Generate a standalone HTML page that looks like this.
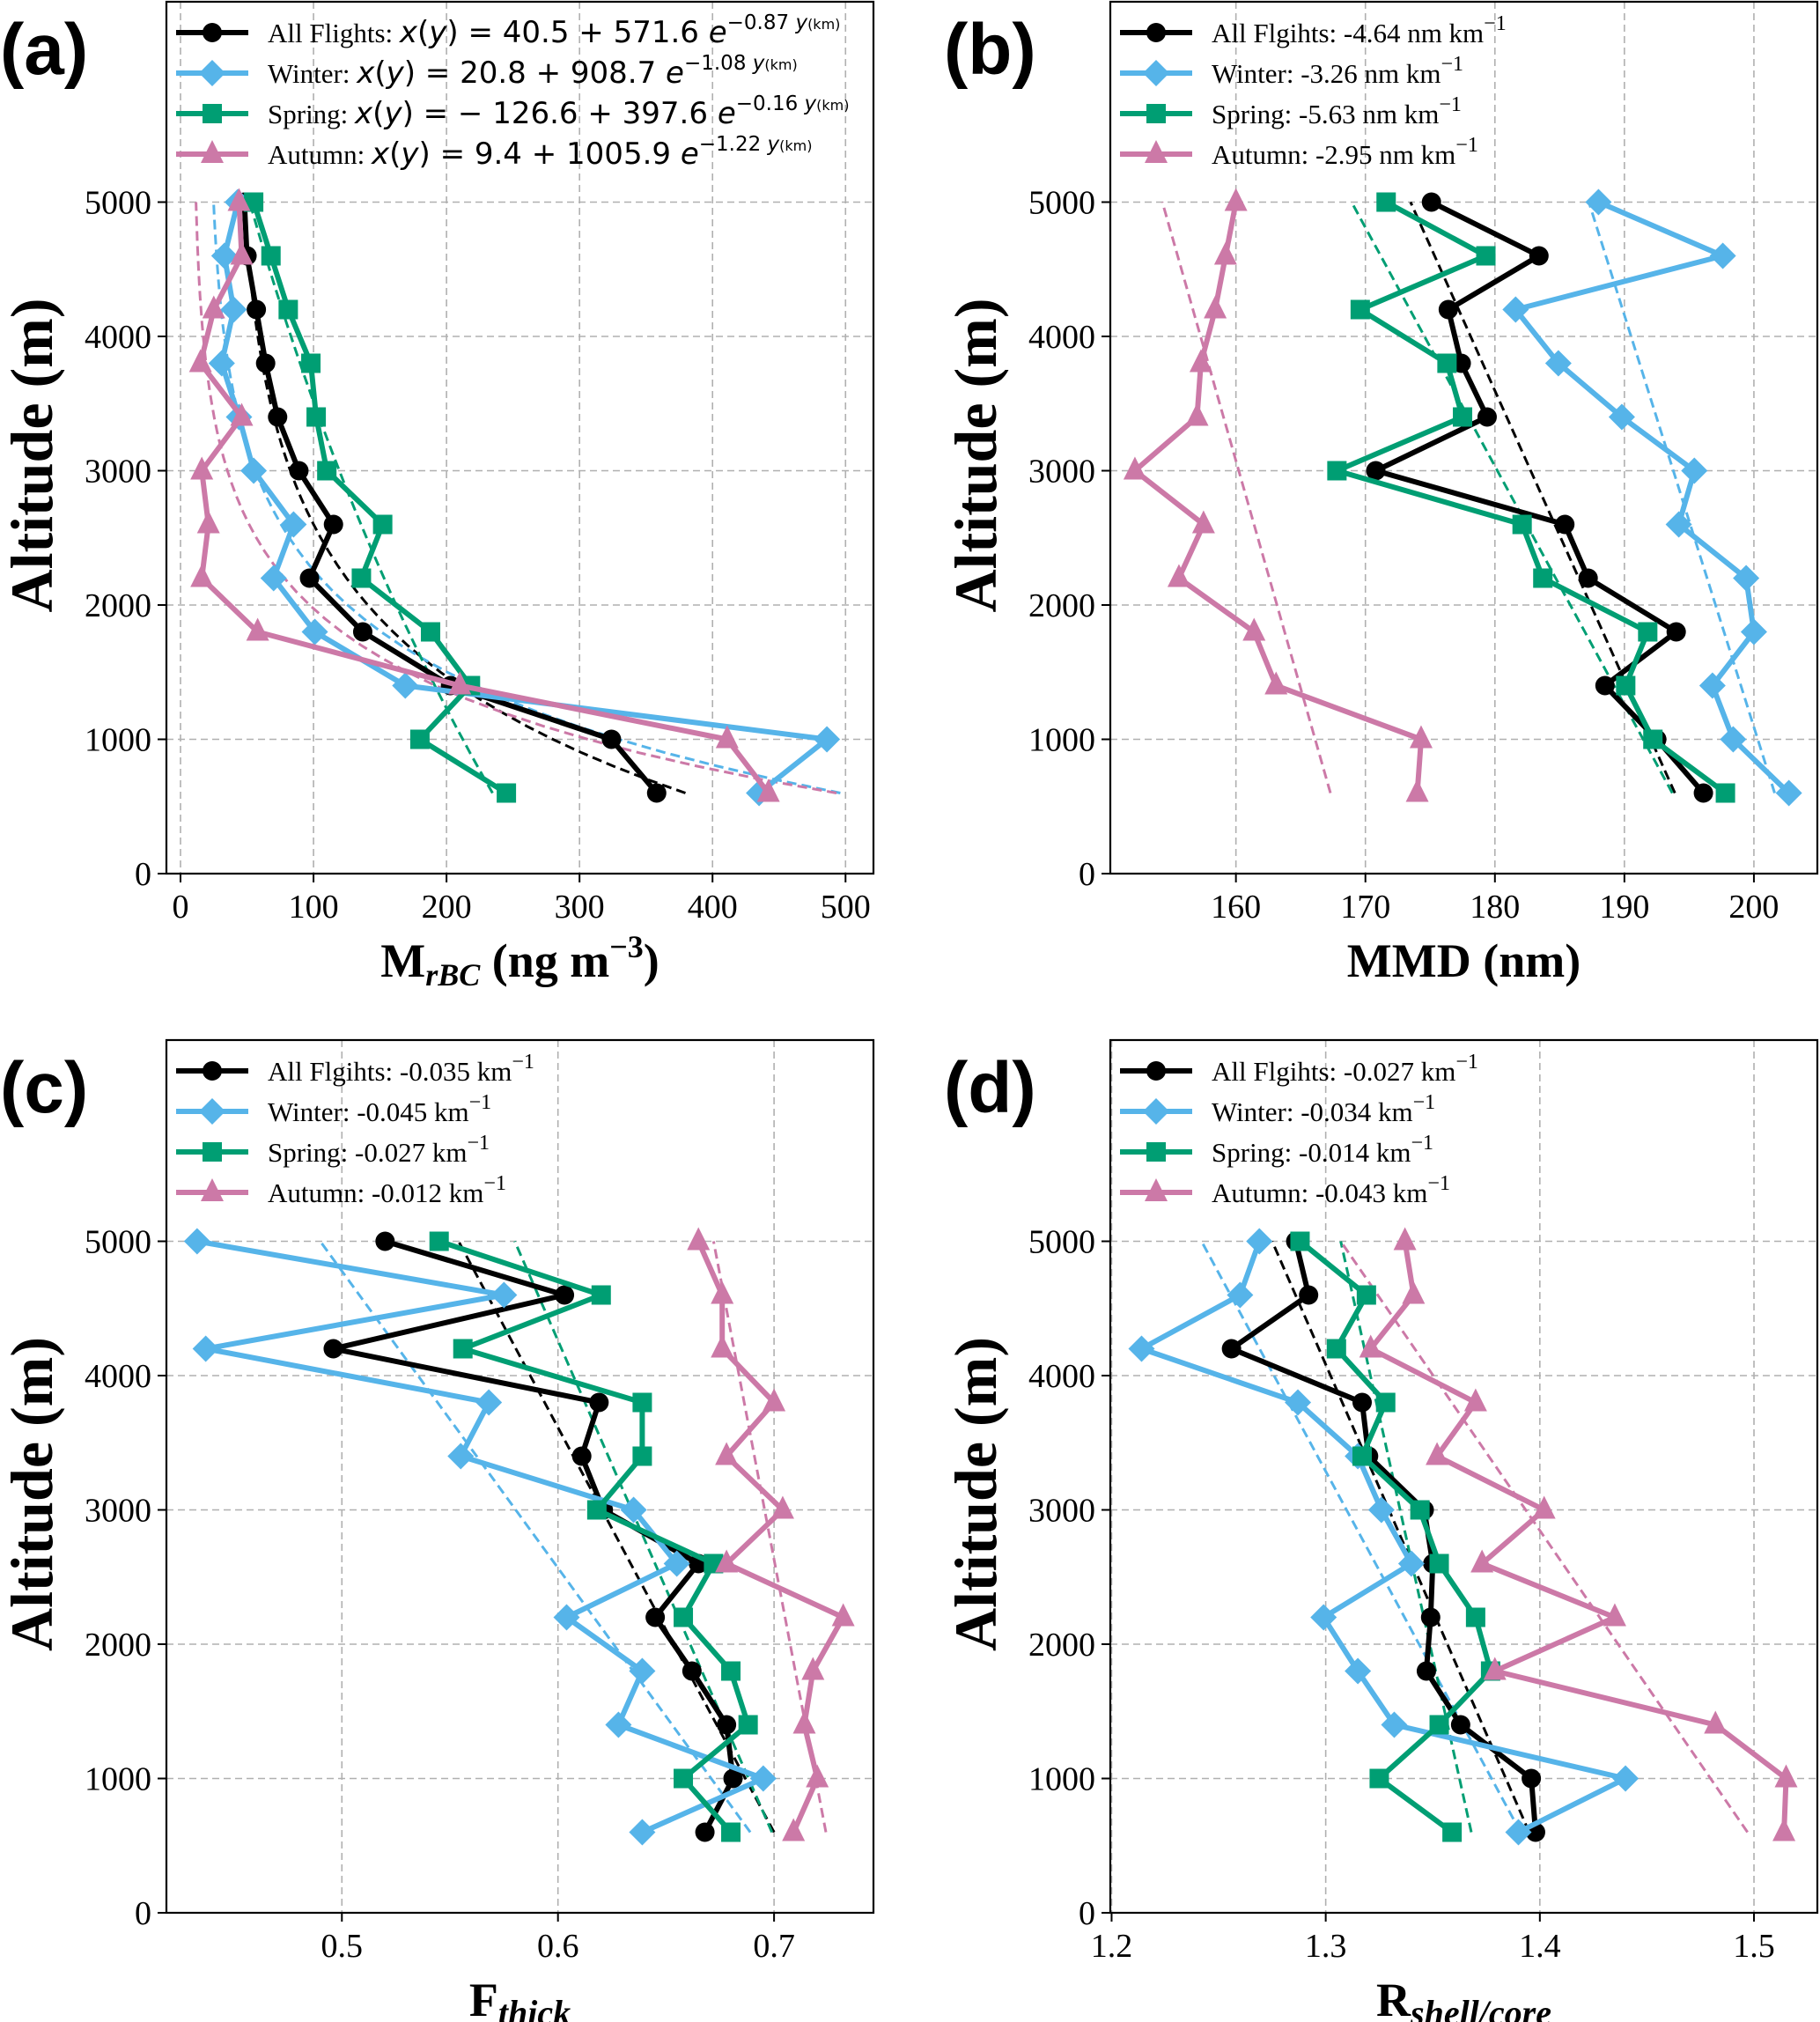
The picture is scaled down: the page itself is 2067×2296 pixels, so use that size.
<!DOCTYPE html>
<html><head><meta charset="utf-8"><style>
html,body{margin:0;padding:0;background:#fff;}
svg{display:block;}
text{font-family:"Liberation Serif","DejaVu Serif",serif;fill:#000;}
.math{font-family:"DejaVu Sans","Liberation Sans",sans-serif;}
</style></head><body>
<svg id="fig" width="2067" height="2296" viewBox="0 0 2067 2296" xmlns="http://www.w3.org/2000/svg"></svg>
<script>
// ---- data ----
const altitudes = [600,1000,1400,1800,2200,2600,3000,3400,3800,4200,4600,5000];
const seasons = ["All Flights","Winter","Spring","Autumn"];
const mrbcAll    = [358,324,203,137,97,115,89,73,64,57,50,48];
const mrbcWinter = [435,486,169,101,70,85,55,44,31,40,33,43];
const mrbcSpring = [245,180,218,188,136,152,110,102,98,81,68,55];
const mrbcAutumn = [442,411,210,58,16,21,16,46,15,25,46,44];
const fitA_a = [40.5,20.8,-126.6,9.4];
const fitA_b = [571.6,908.7,397.6,1005.9];
const fitA_k = [0.87,1.08,0.16,1.22];
const mmdAll    = [196.1,192.5,188.5,194.0,187.2,185.4,170.8,179.4,177.4,176.4,183.4,175.1];
const mmdWinter = [202.7,198.4,196.8,200.0,199.4,194.2,195.4,189.8,184.9,181.6,197.6,188.0];
const mmdSpring = [197.8,192.2,190.1,191.8,183.7,182.1,167.8,177.5,176.3,169.6,179.3,171.6];
const mmdAutumn = [174.0,174.3,163.1,161.4,155.6,157.5,152.2,157.0,157.3,158.4,159.2,160.0];
const fitB_slope = [-4.64,-3.26,-5.63,-2.95];
const fitB_at06 = [193.9,201.6,193.7,167.3];
const fthAll    = [0.668,0.681,0.678,0.662,0.645,0.665,0.621,0.611,0.619,0.496,0.603,0.520];
const fthWinter = [0.639,0.695,0.628,0.639,0.604,0.655,0.635,0.555,0.568,0.437,0.575,0.433];
const fthSpring = [0.680,0.658,0.688,0.680,0.658,0.672,0.618,0.639,0.639,0.556,0.620,0.545];
const fthAutumn = [0.709,0.720,0.714,0.718,0.732,0.678,0.704,0.678,0.700,0.676,0.676,0.665];
const fitC_at06 = [0.700,0.689,0.699,0.724];
const fitC_at50 = [0.554,0.490,0.580,0.672];
const rscAll    = [1.398,1.396,1.363,1.347,1.349,1.350,1.346,1.320,1.317,1.256,1.292,1.286];
const rscWinter = [1.390,1.440,1.332,1.315,1.299,1.340,1.326,1.315,1.287,1.214,1.260,1.269];
const rscSpring = [1.359,1.325,1.353,1.377,1.370,1.353,1.344,1.317,1.328,1.305,1.319,1.288];
const rscAutumn = [1.514,1.515,1.482,1.379,1.435,1.373,1.402,1.352,1.370,1.321,1.341,1.337];
const fitD_at06 = [1.395,1.391,1.368,1.497];
const fitD_at50 = [1.275,1.242,1.307,1.307];
const yTicks = [0,1000,2000,3000,4000,5000];
const xTicksA = [0,100,200,300,400,500];
const xTicksB = [160,170,180,190,200];
const xTicksC = [0.5,0.6,0.7];
const xTicksD = [1.2,1.3,1.4,1.5];

const colors = ["#000000","#56B4E9","#009E73","#CC79A7"];
const markers = ["circle","diamond","square","triangle"];
const NS = "http://www.w3.org/2000/svg";
const svg = document.getElementById("fig");
const SERIF = '"Liberation Serif","Times New Roman",serif';

function mk(tag, attrs, parent){
  const e = document.createElementNS(NS, tag);
  for (const k in attrs) e.setAttribute(k, attrs[k]);
  (parent||svg).appendChild(e);
  return e;
}
function marker(g, shape, x, y, c){
  let e;
  if (shape==="circle"){ e = mk("circle",{cx:x,cy:y,r:11,fill:c},g); }
  else if (shape==="diamond"){ const s=15; e = mk("polygon",{points:`${x},${y-s} ${x+s},${y} ${x},${y+s} ${x-s},${y}`,fill:c},g); }
  else if (shape==="square"){ e = mk("rect",{x:x-11,y:y-11,width:22,height:22,fill:c},g); }
  else { const s=13; e = mk("polygon",{points:`${x},${y-s-3} ${x+s},${y+s-3} ${x-s},${y+s-3}`,fill:c},g); }
  return e;
}

function panel(p){
  const g = mk("g",{});
  
  
  const X = v => p.L + (v - p.xmin)/(p.xmax - p.xmin)*(p.R - p.L);
  const Y = a => p.B - (a/1000)*152.5;
  const clipId = p.name+"-clip";
  const cp = mk("clipPath",{id:clipId},g); mk("rect",{x:p.L,y:p.T,width:p.R-p.L,height:p.B-p.T},cp);
  const grid = mk("g",{},g);
  
  
  p.xticks.forEach(t=>{ mk("line",{x1:X(t),x2:X(t),y1:p.T,y2:p.B,stroke:"#b0b0b0","stroke-width":1.6,"stroke-dasharray":"8,5"},grid); });
  yTicks.forEach(t=>{ mk("line",{x1:p.L,x2:p.R,y1:Y(t),y2:Y(t),stroke:"#b0b0b0","stroke-width":1.6,"stroke-dasharray":"8,5"},grid); });
  const fits = mk("g",{"clip-path":`url(#${clipId})`},g);
  p.fits.forEach((pts,i)=>{
    const d = pts.map((q,j)=>(j?"L":"M")+X(q[0]).toFixed(1)+","+Y(q[1]).toFixed(1)).join(" ");
    const e = mk("path",{d:d,fill:"none",stroke:colors[i],"stroke-width":3,"stroke-dasharray":"11,6"},fits);
    
    
  });
  const ser = mk("g",{"clip-path":`url(#${clipId})`},g);
  p.series.forEach((vals,i)=>{
    const sg = mk("g",{},ser);
    
    
    const d = vals.map((v,j)=>(j?"L":"M")+X(v).toFixed(1)+","+Y(altitudes[j]).toFixed(1)).join(" ");
    mk("path",{d:d,fill:"none",stroke:colors[i],"stroke-width":6,"stroke-linejoin":"round"},sg);
    vals.forEach((v,j)=>{
      const m = marker(sg, markers[i], X(v), Y(altitudes[j]), colors[i]);
      
      
    });
  });
  const fr = mk("rect",{x:p.L,y:p.T,width:p.R-p.L,height:p.B-p.T,fill:"none",stroke:"#000","stroke-width":2.2},g);
  
  
  p.xticks.forEach(t=>{
    mk("line",{x1:X(t),x2:X(t),y1:p.B,y2:p.B+10,stroke:"#000","stroke-width":2},g);
    const e = mk("text",{x:X(t),y:p.B+50,"font-size":38,"text-anchor":"middle",style:"font-family:"+SERIF},g);
    e.textContent = String(t);
    
    
  });
  yTicks.forEach(t=>{
    mk("line",{x1:p.L-10,x2:p.L,y1:Y(t),y2:Y(t),stroke:"#000","stroke-width":2},g);
    const e = mk("text",{x:p.L-17,y:Y(t)+13,"font-size":38,"text-anchor":"end",style:"font-family:"+SERIF},g);
    e.textContent = String(t);
    
    
  });
  const yl = mk("text",{x:0,y:0,"font-size":68,"font-weight":"bold","text-anchor":"middle",transform:`translate(${p.L-130},${(p.T+p.B)/2+20}) rotate(-90)`},g);
  yl.textContent = "Altitude (m)";
  
  
  const xl = mk("text",{x:(p.L+p.R)/2,y:p.B+117,"font-size":54,"font-weight":"bold","text-anchor":"middle"},g);
  xl.innerHTML = p.xlabel;
  
  
  const pl = mk("text",{x:p.L-189,y:p.T+82,"font-size":82,"font-weight":"bold",style:'font-family:"Liberation Sans",sans-serif'},g);
  pl.textContent = p.letter;
  
  
  const lg = mk("g",{},g);
  
  
  p.legend.forEach((txt,i)=>{
    const y = p.T + 35 + i*46;
    const le = mk("g",{},lg);
    
    
    mk("line",{x1:p.L+11,x2:p.L+93,y1:y,y2:y,stroke:colors[i],"stroke-width":6},le);
    marker(le, markers[i], p.L+52, y, colors[i]);
    const t = mk("text",{x:p.L+115,y:y+11,"font-size":31},le);
    t.innerHTML = txt;
  });
}

function expFit(i){ const pts=[]; for(let a=600;a<=5000;a+=100){ pts.push([fitA_a[i]+fitA_b[i]*Math.exp(-fitA_k[i]*a/1000), a]); } return pts; }
function linFit(i){ return [[fitB_at06[i],600],[fitB_at06[i]+fitB_slope[i]*4.4,5000]]; }

const sup = s => `<tspan dy="-14" font-size="24">${s}</tspan>`;
const km1 = `km${sup("−1")}`;
const mathA = (a,b,k)=>`<tspan class="math" font-size="34" font-style="italic">x</tspan><tspan class="math" font-size="34">(</tspan><tspan class="math" font-size="34" font-style="italic">y</tspan><tspan class="math" font-size="34">) = ${a} + ${b} </tspan><tspan class="math" font-size="34" font-style="italic">e</tspan><tspan class="math" dy="-15" font-size="23">−${k} </tspan><tspan class="math" font-style="italic" font-size="23">y</tspan><tspan class="math" font-size="16">(km)</tspan>`;

panel({name:"panel-a", letter:"(a)", L:189,R:992,T:2,B:992, xmin:-10.6,xmax:521, xticks:xTicksA,
  series:[mrbcAll,mrbcWinter,mrbcSpring,mrbcAutumn], fits:[0,1,2,3].map(expFit),
  xlabel:`M<tspan font-style="italic" font-size="36" dy="10">rBC</tspan><tspan dy="-10"> (ng m</tspan><tspan dy="-22" font-size="36">−3</tspan><tspan dy="22">)</tspan>`,
  legend:[`All Flights: ${mathA("40.5","571.6","0.87")}`,`Winter: ${mathA("20.8","908.7","1.08")}`,`Spring: ${mathA("− 126.6","397.6","0.16")}`,`Autumn: ${mathA("9.4","1005.9","1.22")}`]});
panel({name:"panel-b", letter:"(b)", L:1261,R:2064,T:2,B:992, xmin:150.3,xmax:204.9, xticks:xTicksB,
  series:[mmdAll,mmdWinter,mmdSpring,mmdAutumn], fits:[0,1,2,3].map(linFit),
  xlabel:`MMD (nm)`,
  legend:[`All Flgihts: -4.64 nm ${km1}`,`Winter: -3.26 nm ${km1}`,`Spring: -5.63 nm ${km1}`,`Autumn: -2.95 nm ${km1}`]});
panel({name:"panel-c", letter:"(c)", L:189,R:992,T:1181,B:2172, xmin:0.4188,xmax:0.7460, xticks:xTicksC,
  series:[fthAll,fthWinter,fthSpring,fthAutumn], fits:[0,1,2,3].map(i=>[[fitC_at06[i],600],[fitC_at50[i],5000]]),
  xlabel:`F<tspan font-style="italic" font-size="40" dy="10">thick</tspan>`,
  legend:[`All Flgihts: -0.035 ${km1}`,`Winter: -0.045 ${km1}`,`Spring: -0.027 ${km1}`,`Autumn: -0.012 ${km1}`]});
panel({name:"panel-d", letter:"(d)", L:1261,R:2064,T:1181,B:2172, xmin:1.1994,xmax:1.5296, xticks:xTicksD,
  series:[rscAll,rscWinter,rscSpring,rscAutumn], fits:[0,1,2,3].map(i=>[[fitD_at06[i],600],[fitD_at50[i],5000]]),
  xlabel:`R<tspan font-style="italic" font-size="40" dy="10">shell/core</tspan>`,
  legend:[`All Flgihts: -0.027 ${km1}`,`Winter: -0.034 ${km1}`,`Spring: -0.014 ${km1}`,`Autumn: -0.043 ${km1}`]});
</script>
</body></html>
